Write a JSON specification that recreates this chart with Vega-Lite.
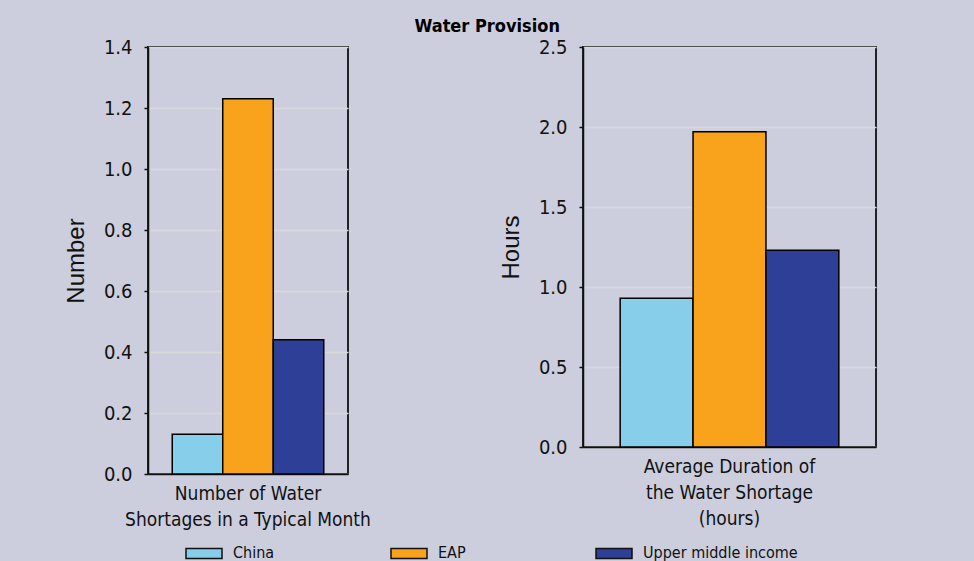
{
  "$schema": "https://vega.github.io/schema/vega-lite/v6.json",
  "background": "#CCCEDD",
  "padding": {"left": 63, "top": 18, "right": 98, "bottom": 10},
  "title": {"text": "Water Provision", "font": "'DejaVu Sans Condensed', 'Roboto Condensed', 'Arial Narrow', 'Liberation Sans'", "fontSize": 18, "fontWeight": "bold", "color": "#000000", "anchor": "middle", "offset": 0, "dx": 17},
  "datasets": {
    "left": [
      {"measure": "Number of Water|Shortages in a Typical Month", "group": "China", "value": 0.13},
      {"measure": "Number of Water|Shortages in a Typical Month", "group": "EAP", "value": 1.23},
      {"measure": "Number of Water|Shortages in a Typical Month", "group": "Upper middle income", "value": 0.44}
    ],
    "right": [
      {"measure": "Average Duration of|the Water Shortage|(hours)", "group": "China", "value": 0.93},
      {"measure": "Average Duration of|the Water Shortage|(hours)", "group": "EAP", "value": 1.97},
      {"measure": "Average Duration of|the Water Shortage|(hours)", "group": "Upper middle income", "value": 1.23}
    ]
  },
  "spacing": 126,
  "hconcat": [
    {
      "data": {"name": "left"},
      "width": 200,
      "height": 427,
      "mark": {"type": "bar", "stroke": "#000000", "strokeWidth": 1.5},
      "encoding": {
        "x": {"field": "measure", "type": "nominal", "title": null,
              "scale": {"paddingInner": 0, "paddingOuter": 0.16},
              "axis": {"labelExpr": "split(datum.label, '|')"}},
        "xOffset": {"field": "group", "type": "nominal", "scale": {"paddingInner": 0, "paddingOuter": 0}},
        "y": {"field": "value", "type": "quantitative", "title": "Number",
              "scale": {"domain": [0, 1.4], "nice": false},
              "axis": {"values": [0, 0.2, 0.4, 0.6, 0.8, 1.0, 1.2, 1.4], "format": ".1f"}},
        "color": {"field": "group", "type": "nominal", "title": null,
                  "scale": {"domain": ["China", "EAP", "Upper middle income"], "range": ["#87CEEB", "#F9A21B", "#2E3F98"]},
                  "legend": {"orient": "none", "legendX": 37, "legendY": 487, "direction": "horizontal", "columns": 3, "gridAlign": "all", "columnPadding": 0}}
      }
    },
    {
      "data": {"name": "right"},
      "width": 293,
      "height": 400,
      "mark": {"type": "bar", "stroke": "#000000", "strokeWidth": 1.5},
      "encoding": {
        "x": {"field": "measure", "type": "nominal", "title": null,
              "scale": {"paddingInner": 0, "paddingOuter": 0.17},
              "axis": {"labelExpr": "split(datum.label, '|')"}},
        "xOffset": {"field": "group", "type": "nominal", "scale": {"paddingInner": 0, "paddingOuter": 0}},
        "y": {"field": "value", "type": "quantitative", "title": "Hours",
              "scale": {"domain": [0, 2.5], "nice": false},
              "axis": {"values": [0, 0.5, 1.0, 1.5, 2.0, 2.5], "format": ".1f"}},
        "color": {"field": "group", "type": "nominal", "title": null,
                  "scale": {"domain": ["China", "EAP", "Upper middle income"], "range": ["#87CEEB", "#F9A21B", "#2E3F98"]}}
      }
    }
  ],
  "resolve": {"scale": {"y": "independent", "x": "independent", "xOffset": "independent"}},
  "config": {
    "view": {"stroke": "#222222", "strokeWidth": 2},
    "axis": {
      "domainColor": "#111111", "domainWidth": 1.5, "tickColor": "#111111", "tickWidth": 1.5,
      "gridColor": "#D9D9D9", "gridWidth": 1.5,
      "labelFont": "'DejaVu Sans Condensed', 'Roboto Condensed', 'Arial Narrow', 'Liberation Sans'", "labelColor": "#111111",
      "titleFont": "'Liberation Sans'", "titleFontWeight": "normal", "titleColor": "#111111", "titleFontSize": 24
    },
    "axisY": {"labelFontSize": 20, "tickSize": 4, "labelPadding": 12, "titlePadding": 15, "grid": true},
    "axisX": {"labelFontSize": 19, "labelAngle": 0, "ticks": false, "labelPadding": 10, "labelLineHeight": 26, "grid": false, "labelBaseline": "top", "labelLimit": 0},
    "legend": {"labelFont": "'DejaVu Sans Condensed', 'Roboto Condensed', 'Arial Narrow', 'Liberation Sans'", "labelFontSize": 16, "labelColor": "#111111",
               "symbolType": "M-1,-0.28H1V0.28H-1Z", "symbolSize": 1296, "symbolStrokeColor": "#111111", "symbolStrokeWidth": 1.5,
               "labelOffset": 10, "padding": 0, "labelLimit": 0}
  }
}
